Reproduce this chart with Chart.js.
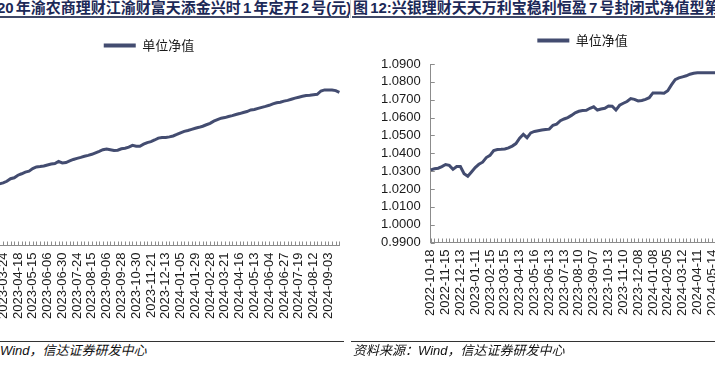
<!DOCTYPE html>
<html>
<head>
<meta charset="utf-8">
<script src="https://cdn.jsdelivr.net/npm/chart.js@4/dist/chart.umd.min.js"></script>
<style>
  html, body { margin: 0; padding: 0; background: #fff; }
  body { width: 715px; height: 373px; position: relative; overflow: hidden;
         font-family: "Liberation Sans", "Noto Sans CJK SC", sans-serif; }
  .title { position: absolute; top: 0; height: 16px; line-height: 16px; font-size: 15px;
           font-weight: bold; color: #1c2957; white-space: nowrap; overflow: hidden; word-spacing: -2px; }
  .rule { position: absolute; top: 16px; height: 2px; background: #3e4766; }
  .foot-rule { position: absolute; top: 341px; height: 1px; background: #333; }
  .foot { position: absolute; top: 343px; font-size: 13px; line-height: 16px; font-style: italic;
          color: #111; white-space: nowrap; }
  canvas { position: absolute; }
</style>
</head>
<body>
<div class="title" style="left:-3px;width:353px;">20 年渝农商理财江渝财富天添金兴时 1 年定开 2 号(元)</div>
<div class="title" style="left:353px;width:400px;">图 12:兴银理财天天万利宝稳利恒盈 7 号封闭式净值型第</div>
<div class="rule" style="left:0;width:349px;"></div>
<div class="rule" style="left:352px;width:363px;"></div>
<div style="position:absolute;left:350px;top:0;width:1px;height:18px;background:#ccc;"></div>

<canvas id="leftChart" style="left:-61px;top:20px;"></canvas>
<canvas id="rightChart" style="left:352px;top:20px;"></canvas>

<div class="foot-rule" style="left:0;width:344px;"></div>
<div class="foot-rule" style="left:351px;width:364px;"></div>
<div class="foot" style="left:-65px;">资料来源：Wind，信达证券研发中心</div>
<div class="foot" style="left:353px;">资料来源：Wind，信达证券研发中心</div>

<script>
// left: 渝农商理财 江渝财富天添金兴时1年定开2号 单位净值
var leftTicks = ['2023-03-24','2023-04-18','2023-05-15','2023-06-06','2023-06-30','2023-07-24',
  '2023-08-15','2023-09-06','2023-09-28','2023-10-30','2023-11-21','2023-12-13','2024-01-05',
  '2024-01-29','2024-02-28','2024-03-21','2024-04-16','2024-05-13','2024-06-04','2024-06-27',
  '2024-07-19','2024-08-12','2024-09-03'];
var leftValues = [
  1.0328, 1.0336, 1.0341, 1.0350, 1.0364, 1.0369, 1.0383, 1.0391, 1.0400, 1.0405,
  1.0419, 1.0428, 1.0430, 1.0433, 1.0439, 1.0444, 1.0447, 1.0458, 1.0450, 1.0452,
  1.0461, 1.0469, 1.0475, 1.0480, 1.0486, 1.0491, 1.0497, 1.0505, 1.0513, 1.0522,
  1.0526, 1.0522, 1.0518, 1.0519, 1.0527, 1.0530, 1.0536, 1.0546, 1.0541, 1.0541,
  1.0552, 1.0561, 1.0566, 1.0575, 1.0585, 1.0589, 1.0589, 1.0592, 1.0597, 1.0605,
  1.0614, 1.0622, 1.0627, 1.0633, 1.0639, 1.0644, 1.0650, 1.0658, 1.0666, 1.0678,
  1.0686, 1.0694, 1.0697, 1.0703, 1.0708, 1.0714, 1.0719, 1.0725, 1.0730, 1.0739,
  1.0741, 1.0747, 1.0753, 1.0758, 1.0764, 1.0772, 1.0778, 1.0781, 1.0787, 1.0791,
  1.0797, 1.0803, 1.0808, 1.0813, 1.0817, 1.0819, 1.0822, 1.0824, 1.0842, 1.0848,
  1.0848, 1.0847, 1.0844, 1.0835];

// right: 兴银理财 天天万利宝稳利恒盈7号 单位净值
var rightTicks = ['2022-10-18','2022-11-15','2022-12-13','2023-01-11','2023-02-15','2023-03-15',
  '2023-04-13','2023-05-16','2023-06-13','2023-07-13','2023-08-10','2023-09-07','2023-10-13',
  '2023-11-10','2023-12-08','2024-01-08','2024-02-05','2024-03-12','2024-04-11','2024-05-14'];
var rightValues = [
  1.0307, 1.0313, 1.0316, 1.0325, 1.0337, 1.0332, 1.0310, 1.0326, 1.0326, 1.0285,
  1.0271, 1.0295, 1.0320, 1.0338, 1.0350, 1.0376, 1.0388, 1.0415, 1.0421, 1.0422,
  1.0424, 1.0430, 1.0440, 1.0454, 1.0484, 1.0506, 1.0487, 1.0514, 1.0522, 1.0526,
  1.0530, 1.0533, 1.0535, 1.0557, 1.0563, 1.0582, 1.0592, 1.0600, 1.0612, 1.0627,
  1.0635, 1.0639, 1.0641, 1.0652, 1.0660, 1.0642, 1.0648, 1.0652, 1.0665, 1.0663,
  1.0642, 1.0669, 1.0680, 1.0690, 1.0706, 1.0702, 1.0693, 1.0696, 1.0702, 1.0711,
  1.0738, 1.0738, 1.0737, 1.0736, 1.0750, 1.0783, 1.0812, 1.0822, 1.0828, 1.0834,
  1.0843, 1.0848, 1.0851, 1.0851, 1.0851, 1.0851, 1.0851, 1.0851, 1.0851, 1.0851,
  1.0851, 1.0851, 1.0851];

var seriesName = '单位净值';
var lineColor = '#434c70';
var axisColor = '#8c8c8c';

Chart.defaults.font.family = '"Liberation Sans", "Noto Sans CJK SC", sans-serif';
Chart.defaults.font.size = 13;
Chart.defaults.color = '#1a1a1a';

// one label every 4 points, blank in between (each point still gets a tick mark)
function spreadLabels(values, ticks, first) {
    return values.map(function (v, i) {
        var k = i - first;
        return (k >= 0 && k % 4 === 0) ? (ticks[k / 4] || '') : '';
    });
}

// excel style tick marks pointing into the plot
var innerTicks = {
    id: 'innerTicks',
    beforeDatasetsDraw: function (chart, args, opts) {
        var ctx = chart.ctx, xs = chart.scales.x, ys = chart.scales.y;
        var yLen = opts.yLen === undefined ? 4 : opts.yLen;
        ctx.save();
        ctx.strokeStyle = axisColor;
        ctx.lineWidth = 1;
        ctx.beginPath();
        xs.ticks.forEach(function (t, i) {
            var px = Math.round(xs.getPixelForTick(i)) + 0.5;
            ctx.moveTo(px, xs.top);
            ctx.lineTo(px, xs.top - 4);
        });
        if (yLen > 0) {
            ys.ticks.forEach(function (t, i) {
                var py = Math.round(ys.getPixelForTick(i)) + 0.5;
                ctx.moveTo(ys.right, py);
                ctx.lineTo(ys.right + yLen, py);
            });
        }
        ctx.stroke();
        ctx.restore();
    }
};

// extra gap under the legend, and a sideways nudge of it
function legendTweak(gap, dx) {
    return {
        id: 'legendTweak',
        beforeInit: function (chart) {
            var fit = chart.legend.fit;
            chart.legend.fit = function () {
                fit.bind(chart.legend)();
                this.height += gap;
            };
        },
        afterLayout: function (chart) {
            chart.legend.left += dx;
            chart.legend.right += dx;
        }
    };
}

function drawChart(id, w, h, labels, values, yMin, yMax, padding, yPad, legendFull, gap, dx, yLen) {
    var canvas = document.getElementById(id);
    canvas.width = w;
    canvas.height = h;
    var ctx = canvas.getContext('2d');
    return new Chart(ctx, {
        type: 'line',
        data: {
            labels: labels,
            datasets: [{
                label: seriesName,
                data: values,
                borderColor: lineColor,
                backgroundColor: lineColor,
                borderWidth: 3,
                pointRadius: 0,
                tension: 0,
                fill: false
            }]
        },
        options: {
            responsive: false,
            animation: false,
            layout: { padding: padding },
            plugins: {
                tooltip: { enabled: false },
                innerTicks: { yLen: yLen },
                legend: {
                    position: 'top',
                    fullSize: legendFull,
                    labels: {
                        boxWidth: 32,
                        boxHeight: 4,
                        padding: 10,
                        font: { family: '"Noto Sans CJK SC", sans-serif', size: 13 },
                        generateLabels: function (chart) {
                            return Chart.defaults.plugins.legend.labels.generateLabels(chart).map(function (l) {
                                l.fillStyle = lineColor;
                                l.lineWidth = 0;
                                return l;
                            });
                        }
                    }
                }
            },
            scales: {
                x: {
                    grid: { display: false, drawTicks: false },
                    border: { display: true, color: axisColor, width: 1 },
                    ticks: { autoSkip: false, minRotation: 90, maxRotation: 90, padding: 7 }
                },
                y: {
                    min: yMin,
                    max: yMax,
                    grid: { display: false, drawTicks: false },
                    border: { display: true, color: axisColor, width: 1 },
                    ticks: {
                        stepSize: 0.01,
                        autoSkip: false,
                        padding: yPad,
                        callback: function (v) { return v.toFixed(4); }
                    }
                }
            }
        },
        plugins: [innerTicks, legendTweak(gap, dx)]
    });
}

// left panel is cut off by the page edge, so its value axis sits just outside the view
drawChart('leftChart', 423, 306, spreadLabels(leftValues, leftTicks, 2), leftValues, 1.00, 1.10,
    { top: 9, left: 17, right: 0, bottom: 0 }, 0, true, 0, -10, 0);
drawChart('rightChart', 405, 305, spreadLabels(rightValues, rightTicks, 0), rightValues, 0.99, 1.09,
    { top: 4, left: 19, right: 4, bottom: 2 }, 10, false, 7, 0, 4);
</script>
</body>
</html>
